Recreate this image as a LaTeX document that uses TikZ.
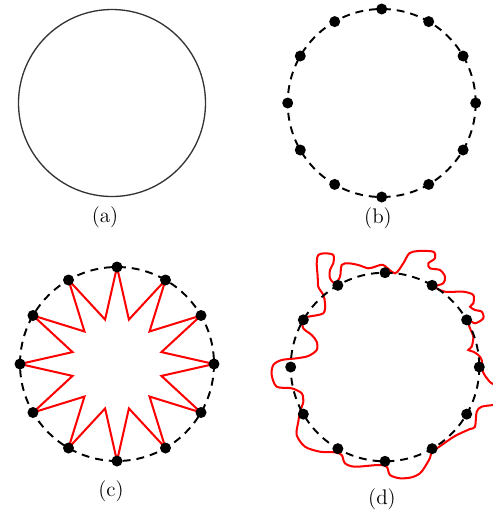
\documentclass[tikz,border=0pt]{standalone}
\usepackage{tikz}
\usetikzlibrary{calc}

\begin{document}
\begin{tikzpicture}[x=0.02cm, y=-0.02cm,
	dot/.style={circle, fill=black, inner sep=0pt, minimum size=0.22cm},
	ring/.style={line width=1.1pt, dash pattern=on 4.5pt off 3.4pt},
	wire/.style={red, line width=1.15pt},
	lbl/.style={font=\fontsize{12}{14}\selectfont}]
	\useasboundingbox (0,0) rectangle (493,515);
	
	% (a) plain circle
	\coordinate (ca) at (112,103);
	\draw [line width=0.75pt, black!80] (ca) circle [radius=93.5];
	\node [lbl] (la) at (105,217) {(a)};
	
	% (b) sampled points
	\coordinate (cb) at (381.7,103);
	\draw [ring] (cb) circle [radius=94];
	\foreach \i in {0,...,11}
		\node [dot] (b\i) at ($(cb)+(\i*30:94)$) {};
	\node [lbl] (lb) at (378,218) {(b)};
	
	% (c) star through the points
	\coordinate (cc) at (117,364);
	\foreach \i in {0,...,11} {
		\coordinate (c\i) at ($(cc)+(\i*30:97)$);
		\coordinate (s\i) at ($(cc)+(\i*30+15:46)$);
	}
	\draw [wire] (c0) foreach \i [evaluate=\i as \k using int(\i+1)] in {0,...,10} {-- (s\i) -- (c\k)} -- (s11) -- cycle;
	\draw [ring] (cc) circle [radius=97];
	\foreach \i in {0,...,11}
		\node [dot] (cd\i) at (c\i) {};
	\node [lbl] (lc) at (111,491) {(c)};
	
	% (d) noisy contour
	\coordinate (cd) at (385,367);
	\draw [wire] plot [smooth cycle, tension=0.5] coordinates {
		(273.3,365) (281.7,360) (296.7,358.3) (308.3,356) (316.7,350) (316.7,341.7)
		(311.7,335) (303.3,328.3) (302.3,319) (308.3,316.7) (323.3,313.3) (325,303.3)
		(323.3,295) (318.3,286.7) (317.7,276.7) (316.7,263.3) (318.3,255) (325,253.3)
		(333.3,255) (333.3,263.3) (330,270) (330,278.3) (335,283.3) (340,276.7)
		(341.7,265) (348.3,263.3) (358.3,265) (368.3,268.3) (375,266.7) (383.3,265)
		(395,273.3) (403.3,263.3) (409.3,253.3) (418.3,251) (433.3,251.7) (435,258.3)
		(428.3,263.3) (430,268.3) (440,270) (445,276.7) (443.3,283.3) (435,286.7)
		(445,291.7) (463.3,291.7) (473.3,295) (473.3,303.3) (470,306.7) (475,310)
		(481.7,311.7) (483.3,318.3) (475,323.3) (467.7,319.3) (470,328.3) (473.3,336.7)
		(471.7,346.7) (468.3,350) (473.3,351.7) (478.3,355) (481.7,360) (483,372)
		(490,382) (498,388) (498,404) (493.3,405) (481.7,406.7) (476.7,411.7)
		(475,426.7) (470,429) (455,436) (441.7,445) (432,452) (430,458)
		(425,466.7) (420,473.3) (411.7,477.3) (400,478.3) (390,475) (386.7,466.7)
		(378.3,465) (355,466.7) (345,463.3) (341.7,455) (335,452.3) (320,451.7)
		(305,446.7) (296.7,435) (298.3,421.7) (300,411.7) (303.3,401.7) (301.7,393.3)
		(291.7,388.3) (276.7,386.7) (271.7,375)};
	\draw [ring] (cd) circle [radius=94.3];
	\foreach \i in {0,...,11}
		\node [dot] (d\i) at ($(cd)+(\i*30:94.3)$) {};
	\node [lbl] (ld) at (382,499) {(d)};
\end{tikzpicture}
\end{document}
